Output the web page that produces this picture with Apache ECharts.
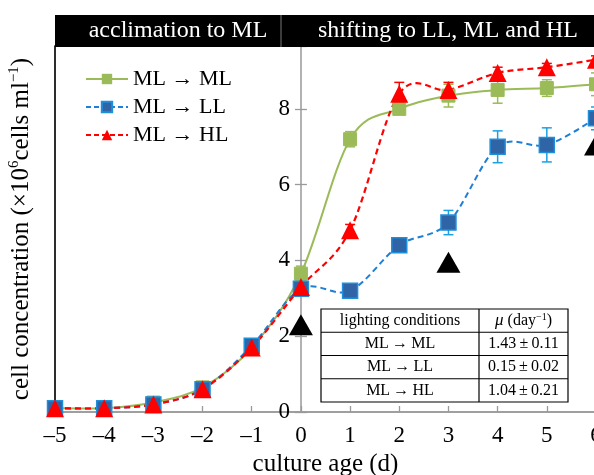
<!DOCTYPE html>
<html>
<head>
<meta charset="utf-8">
<script src="https://cdn.jsdelivr.net/npm/echarts@6/dist/echarts.min.js"></script>
<style>
  html, body { margin: 0; padding: 0; background: #fff; }
  #chart { width: 594px; height: 475px; }
</style>
</head>
<body>
<div id="chart"></div>
<script>
// culture age (d)
const days = [-5, -4, -3, -2, -1, 0, 1, 2, 3, 4, 5, 6]
// cell concentration (x10^6 cells/ml)
const mlToMl = [0.1, 0.1, 0.25, 0.65, 1.7, 3.65, 7.2, 8.0, 8.35, 8.5, 8.55, 8.65]
const mlToMlErr = [0.05, 0.05, 0.06, 0.08, 0.1, 0.2, 0.2, 0.1, 0.3, 0.35, 0.22, 0.3]
const mlToLl = [0.1, 0.1, 0.2, 0.6, 1.75, 3.25, 3.2, 4.4, 5.0, 7.0, 7.05, 7.75]
const mlToLlErr = [0.05, 0.05, 0.05, 0.08, 0.1, 0.1, 0.08, 0.15, 0.32, 0.42, 0.45, 0.3]
const mlToHl = [0.1, 0.1, 0.2, 0.6, 1.7, 3.3, 4.8, 8.4, 8.5, 8.95, 9.1, 9.3]
const mlToHlErr = [0.05, 0.05, 0.05, 0.08, 0.1, 0.1, 0.15, 0.3, 0.2, 0.15, 0.1, 0.1]
// black arrows (sampling points)
const sampleDays = [0, 3, 6]
const sampleY = [2.3, 3.95, 7.05]
// growth rate table
const seriesNames = ['ML \u2192 ML', 'ML \u2192 LL', 'ML \u2192 HL']
const tableRows = ['ML\u2009\u2192\u2009ML', 'ML\u2009\u2192\u2009LL', 'ML\u2009\u2192\u2009HL']
const tableMu = ['1.43\u2009\u00b1\u20090.11', '0.15\u2009\u00b1\u20090.02', '1.04\u2009\u00b1\u20090.21']

const serif = 'Liberation Serif'
const xMin = -5, xMax = 6, yMax = 9.66
const gridLeft = 55, gridWidth = 541
// y axis sits on day 0
const zeroOffset = -((0 - xMin) / (xMax - xMin)) * gridWidth

const chart = echarts.init(document.getElementById('chart'))

function pairs(ys) {
  return days.map((d, i) => [d, ys[i]])
}

function errorBars(color, ys, errs) {
  return {
    type: 'custom',
    z: 1,
    silent: true,
    data: days.map((d, i) => [d, ys[i] - errs[i], ys[i] + errs[i]]),
    renderItem: function (params, api) {
      let x = api.value(0)
      let lo = api.coord([x, api.value(1)])
      let hi = api.coord([x, api.value(2)])
      let w = 5
      let style = { stroke: color, lineWidth: 1.5 }
      return {
        type: 'group',
        children: [
          { type: 'line', shape: { x1: lo[0], y1: lo[1], x2: hi[0], y2: hi[1] }, style },
          { type: 'line', shape: { x1: lo[0] - w, y1: lo[1], x2: lo[0] + w, y2: lo[1] }, style },
          { type: 'line', shape: { x1: hi[0] - w, y1: hi[1], x2: hi[0] + w, y2: hi[1] }, style },
        ],
      }
    },
  }
}

// smoothed curve (catmull-rom style, like the spreadsheet plot)
function curve(ys, color, width, dash) {
  return {
    type: 'custom',
    z: 2,
    silent: true,
    data: pairs(ys),
    renderItem: function (params, api) {
      let i = params.dataIndex
      let n = days.length
      if (i >= n - 1) return null
      let p = (k) => api.coord([days[k], ys[k]])
      let p0 = p(Math.max(i - 1, 0))
      let p1 = p(i)
      let p2 = p(i + 1)
      let p3 = p(Math.min(i + 2, n - 1))
      return {
        type: 'bezierCurve',
        shape: {
          x1: p1[0], y1: p1[1],
          x2: p2[0], y2: p2[1],
          cpx1: p1[0] + (p2[0] - p0[0]) / 6,
          cpy1: p1[1] + (p2[1] - p0[1]) / 6,
          cpx2: p2[0] - (p3[0] - p1[0]) / 6,
          cpy2: p2[1] - (p3[1] - p1[1]) / 6,
        },
        style: { stroke: color, lineWidth: width, fill: null, lineDash: dash },
      }
    },
  }
}

// table drawn with graphic elements
const tX = 321, tY = 309, tW = 247, tH = 93, tCol = 479
const rowH = tH / 4
const tFont = '16px "' + serif + '"'
let tableEls = [
  { type: 'rect', shape: { x: tX, y: tY, width: tW, height: tH }, style: { fill: '#fff', stroke: '#000', lineWidth: 1.2 } },
  { type: 'line', shape: { x1: tCol, y1: tY, x2: tCol, y2: tY + tH }, style: { stroke: '#000', lineWidth: 1.2 } },
]
for (let r = 1; r < 4; r++) {
  tableEls.push({ type: 'line', shape: { x1: tX, y1: tY + r * rowH, x2: tX + tW, y2: tY + r * rowH }, style: { stroke: '#000', lineWidth: 1.2 } })
}
tableEls.push({
  type: 'text', x: (tX + tCol) / 2, y: tY + rowH / 2,
  style: { text: 'lighting conditions', font: tFont, fill: '#000', align: 'center', verticalAlign: 'middle' },
})
tableEls.push({
  type: 'text', x: (tCol + tX + tW) / 2, y: tY + rowH / 2,
  style: {
    text: '{i|\u03bc} (day{s|\u22121})',
    font: tFont, fill: '#000', align: 'center', verticalAlign: 'middle',
    rich: {
      i: { fontFamily: serif, fontSize: 17, fontStyle: 'italic' },
      s: { fontFamily: serif, fontSize: 10, verticalAlign: 'top', lineHeight: 10, padding: [0, 0, 6, 0] },
    },
  },
})
tableRows.forEach((name, i) => {
  tableEls.push({
    type: 'text', x: (tX + tCol) / 2, y: tY + (i + 1.5) * rowH,
    style: { text: name, font: tFont, fill: '#000', align: 'center', verticalAlign: 'middle' },
  })
  tableEls.push({
    type: 'text', x: (tCol + tX + tW) / 2, y: tY + (i + 1.5) * rowH,
    style: { text: tableMu[i], font: tFont, fill: '#000', align: 'center', verticalAlign: 'middle' },
  })
})

const option = {
  animation: false,
  backgroundColor: '#fff',
  grid: {
    left: gridLeft,
    top: 46,
    width: gridWidth,
    height: 366,
    outerBoundsMode: 'none',
    show: true,
    borderColor: '#999',
    borderWidth: 1.5,
  },
  legend: {
    orient: 'vertical',
    left: 80,
    top: 63,
    itemWidth: 42,
    itemHeight: 13,
    itemGap: 6,
    data: [
      { name: seriesNames[0], lineStyle: { color: '#9BBB59', width: 2, type: 'solid', opacity: 1 } },
      { name: seriesNames[1], lineStyle: { color: '#1F7ED6', width: 2, type: [5, 3], opacity: 1 } },
      { name: seriesNames[2], lineStyle: { color: '#FF0000', width: 2, type: [5, 3], opacity: 1 } },
    ],
    textStyle: { fontFamily: serif, fontSize: 22, color: '#000' },
  },
  xAxis: {
    type: 'value',
    min: xMin,
    max: xMax,
    interval: 1,
    name: 'culture age (d)',
    nameLocation: 'middle',
    nameGap: 38,
    nameTextStyle: { fontFamily: serif, fontSize: 25, color: '#000' },
    axisLine: { onZero: false, lineStyle: { color: '#999', width: 1.5 } },
    axisTick: { inside: true, length: 6, lineStyle: { color: '#999', width: 1.3 } },
    axisLabel: {
      fontFamily: serif,
      fontSize: 23,
      color: '#000',
      margin: 12,
      formatter: (v) => (v < 0 ? '\u2013' + -v : '' + v),
    },
    splitLine: { show: false },
  },
  yAxis: [
    {
      type: 'value',
      min: 0,
      max: yMax,
      interval: 2,
      position: 'left',
      offset: zeroOffset,
      axisLine: { show: true, onZero: false, lineStyle: { color: '#999', width: 1.5 } },
      axisTick: { show: true, length: 6, lineStyle: { color: '#999', width: 1.3 } },
      axisLabel: { fontFamily: serif, fontSize: 23, color: '#000', margin: 11, showMaxLabel: false },
      splitLine: { show: false },
    },
    {
      type: 'value',
      min: 0,
      max: yMax,
      position: 'left',
      offset: 0,
      name: '{t|cell concentration (\u00d710}{s|6}{t|cells ml}{s|\u22121}{t|)}',
      nameLocation: 'middle',
      nameGap: 20,
      nameRotate: 90,
      nameTextStyle: {
        rich: {
          t: { fontFamily: serif, fontSize: 25, color: '#000', lineHeight: 28 },
          s: { fontFamily: serif, fontSize: 15, color: '#000', verticalAlign: 'top', lineHeight: 16 },
        },
      },
      axisLine: { show: true, onZero: false, lineStyle: { color: '#000', width: 1.5 } },
      axisTick: { show: false },
      axisLabel: { show: false },
      splitLine: { show: false },
    },
    {
      type: 'value',
      min: 0,
      max: yMax,
      interval: 2,
      position: 'left',
      offset: zeroOffset,
      axisLine: { show: false, onZero: false },
      axisTick: { show: true, inside: true, length: 6, lineStyle: { color: '#999', width: 1.3 } },
      axisLabel: { show: false },
      splitLine: { show: false },
    },
  ],
  graphic: [
    { type: 'rect', shape: { x: 55, y: 15, width: 545, height: 32 }, style: { fill: '#000' }, z: 100 },
    { type: 'line', shape: { x1: 281, y1: 15, x2: 281, y2: 47 }, style: { stroke: '#777', lineWidth: 1 }, z: 101 },
    {
      type: 'text', x: 178, y: 31, z: 101,
      style: { text: 'acclimation to ML', font: '24px "' + serif + '"', fill: '#fff', align: 'center', verticalAlign: 'middle' },
    },
    {
      type: 'text', x: 448, y: 31, z: 101,
      style: { text: 'shifting to LL, ML and HL', font: '24px "' + serif + '"', fill: '#fff', align: 'center', verticalAlign: 'middle' },
    },
    { type: 'group', z: 50, children: tableEls },
  ],
  series: [
    errorBars('#9BBB59', mlToMl, mlToMlErr),
    errorBars('#1BA1E2', mlToLl, mlToLlErr),
    errorBars('#FF0000', mlToHl, mlToHlErr),
    curve(mlToMl, '#9BBB59', 2, null),
    curve(mlToLl, '#1F7ED6', 2, [6, 4]),
    curve(mlToHl, '#FF0000', 2.2, [6, 4]),
    {
      name: seriesNames[0],
      type: 'line',
      z: 3,
      data: pairs(mlToMl),
      symbol: 'rect',
      symbolSize: 13,
      lineStyle: { opacity: 0 },
      itemStyle: { color: '#9BBB59', borderColor: '#9BBB59' },
    },
    {
      name: seriesNames[1],
      type: 'line',
      z: 4,
      data: pairs(mlToLl),
      symbol: 'rect',
      symbolSize: 15,
      lineStyle: { opacity: 0 },
      itemStyle: { color: '#2F65A7', borderColor: '#1F8FDA', borderWidth: 1.5 },
    },
    {
      name: seriesNames[2],
      type: 'line',
      z: 5,
      data: pairs(mlToHl),
      symbol: 'triangle',
      symbolSize: 18,
      lineStyle: { opacity: 0 },
      itemStyle: { color: '#FF0000' },
    },
    {
      name: 'sampling',
      type: 'scatter',
      z: 6,
      data: sampleDays.map((d, i) => [d, sampleY[i]]),
      symbol: 'triangle',
      symbolSize: [24, 21],
      itemStyle: { color: '#000', opacity: 1 },
    },
  ],
}

chart.setOption(option)
</script>
</body>
</html>
